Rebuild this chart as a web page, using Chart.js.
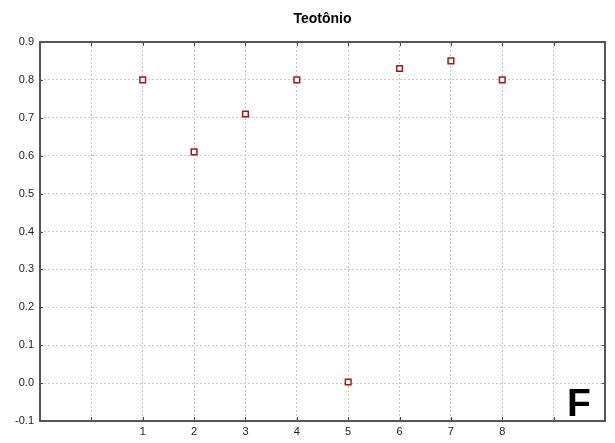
<!DOCTYPE html>
<html>
<head>
<meta charset="utf-8">
<script src="https://cdn.jsdelivr.net/npm/chart.js@4/dist/chart.umd.min.js"></script>
<style>
html,body{margin:0;padding:0;background:#fff;}
#wrap{width:615px;height:443px;position:relative;}
</style>
</head>
<body>
<div id="wrap"><canvas id="c" width="615" height="443"></canvas></div>
<script>
const chartTitle = "Teotônio";
const panelLetter = "F";
const categories = [1, 2, 3, 4, 5, 6, 7, 8];
const values = [0.80, 0.61, 0.71, 0.80, 0.003, 0.83, 0.85, 0.80];
const xTickLabels = ["1", "2", "3", "4", "5", "6", "7", "8"];

const points = categories.map((c, i) => ({x: c, y: values[i]}));
const FONT = "'Liberation Sans', Arial, sans-serif";

const decor = {
  id: 'decor',
  afterDraw(chart) {
    const ctx = chart.ctx, a = chart.chartArea;
    const xs = chart.scales.x, ys = chart.scales.y;
    ctx.save();
    ctx.strokeStyle = '#444';
    ctx.lineWidth = 1;
    for (let v = 0; v <= 9; v++) {
      const px = Math.round(xs.getPixelForValue(v)) + 0.5;
      ctx.beginPath();
      ctx.moveTo(px, a.top); ctx.lineTo(px, a.top + 4);
      ctx.moveTo(px, a.bottom); ctx.lineTo(px, a.bottom - 4);
      ctx.stroke();
    }
    for (let k = 0; k <= 10; k++) {
      const v = -0.1 + k * 0.1;
      const py = Math.round(ys.getPixelForValue(v)) + 0.5;
      ctx.beginPath();
      ctx.moveTo(a.left, py); ctx.lineTo(a.left + 3, py);
      ctx.moveTo(a.right, py); ctx.lineTo(a.right - 3, py);
      ctx.stroke();
    }
    ctx.strokeStyle = '#555';
    ctx.lineWidth = 2;
    ctx.strokeRect(a.left, a.top, a.right - a.left, a.bottom - a.top);
    ctx.fillStyle = '#000';
    ctx.font = "bold 14px " + FONT;
    ctx.textAlign = 'center';
    ctx.textBaseline = 'middle';
    ctx.fillText(chartTitle, (a.left + a.right) / 2, 19);
    ctx.font = "bold 39px " + FONT;
    ctx.textAlign = 'center';
    ctx.textBaseline = 'alphabetic';
    ctx.fillText(panelLetter, 579, 416);
    ctx.restore();
  }
};

new Chart(document.getElementById('c'), {
  type: 'scatter',
  data: {
    datasets: [{
      data: points,
      pointStyle: 'rect',
      pointRadius: 4,
      pointHoverRadius: 4,
      borderColor: '#a01818',
      backgroundColor: '#ffffff',
      borderWidth: 1.5,
      showLine: false
    }]
  },
  options: {
    responsive: false,
    animation: false,
    events: [],
    layout: {padding: {top: 42, right: 10, left: 0, bottom: 0}},
    plugins: {legend: {display: false}, tooltip: {enabled: false}, title: {display: false}},
    scales: {
      x: {
        type: 'linear',
        min: -1, max: 10,
        afterFit(s) { s.height = 22; },
        afterBuildTicks(s) {
          const t = [];
          for (let v = -1; v <= 10; v++) t.push({value: v});
          s.ticks = t;
        },
        ticks: {
          autoSkip: false,
          maxRotation: 0,
          color: '#222',
          font: {family: FONT, size: 11},
          padding: 4,
          callback: (v) => {
            const i = categories.indexOf(v);
            return i >= 0 ? xTickLabels[i] : '';
          }
        },
        grid: {
          color: (c) => (c.tick && (c.tick.value === -1 || c.tick.value === 10)) ? 'rgba(0,0,0,0)' : '#c8c8c8',
          lineWidth: 1,
          tickLength: 0,
          drawTicks: false
        },
        border: {display: false, dash: [2, 2]}
      },
      y: {
        type: 'linear',
        min: -0.1, max: 0.9,
        afterFit(s) { s.width = 40; },
        afterBuildTicks(s) {
          const t = [];
          for (let k = 0; k <= 10; k++) t.push({value: Math.round((-0.1 + k * 0.1) * 10) / 10});
          s.ticks = t;
        },
        ticks: {
          color: '#222',
          font: {family: FONT, size: 11},
          padding: 6,
          callback: (v) => Number(v).toFixed(1)
        },
        grid: {
          color: '#c8c8c8',
          lineWidth: 1,
          drawTicks: false,
          tickLength: 0
        },
        border: {display: false, dash: [2, 2]}
      }
    }
  },
  plugins: [decor]
});
</script>
</body>
</html>
